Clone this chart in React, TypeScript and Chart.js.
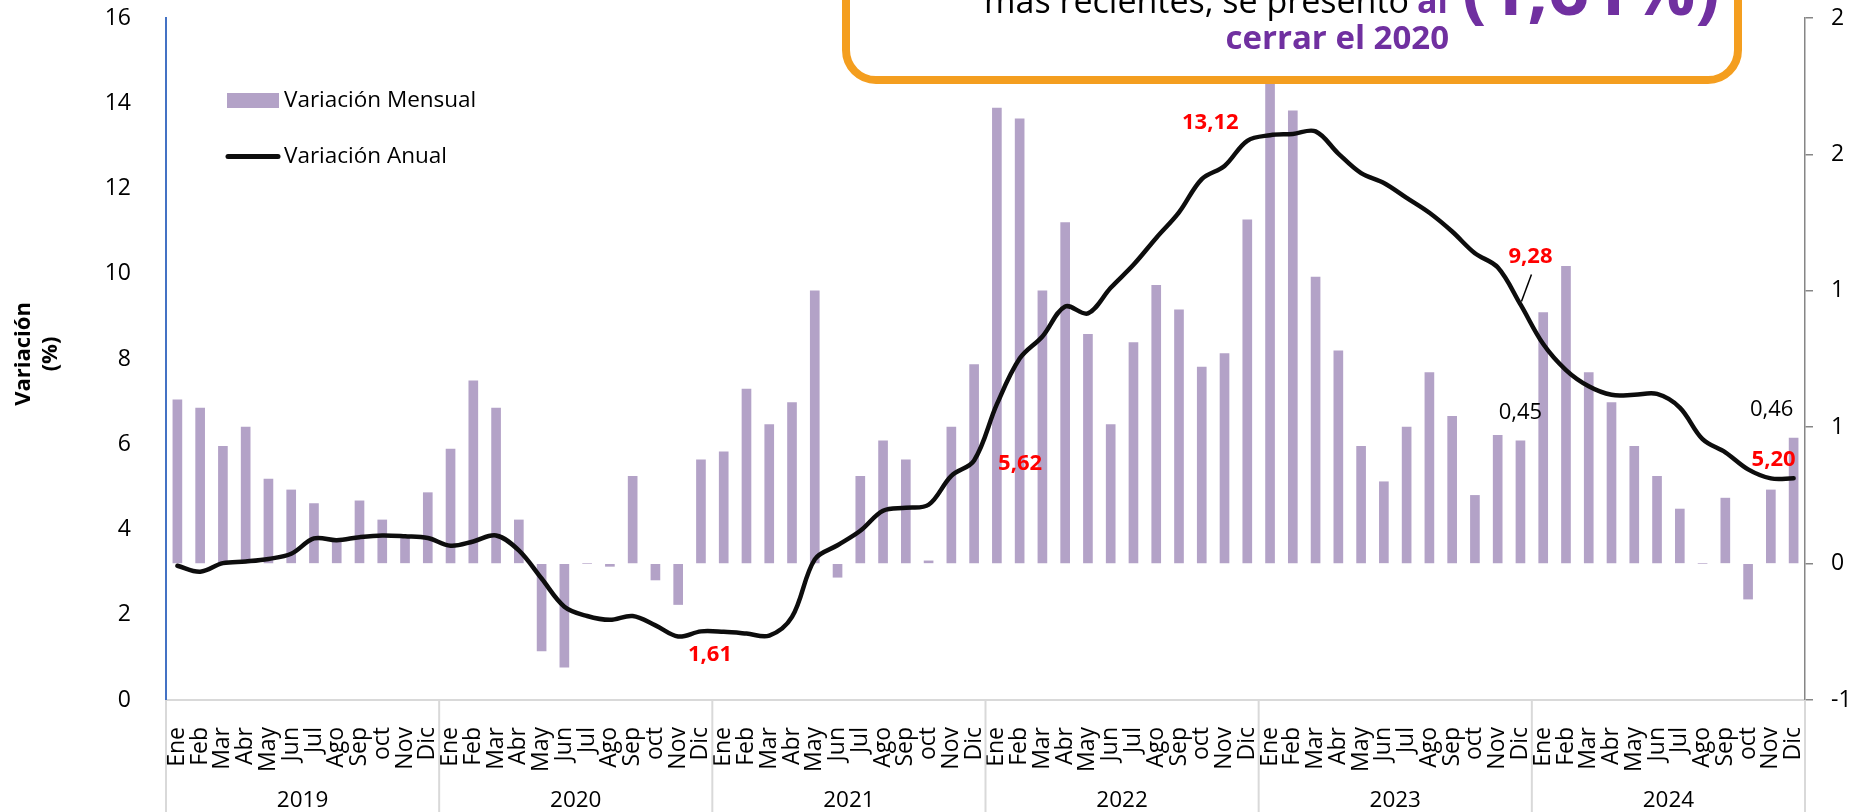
import React, { useEffect, useRef } from 'react';
import { Chart, registerables } from 'chart.js';

Chart.register(...registerables);

const FONT = "'Open Sans', 'Noto Sans', sans-serif";

const monthLabels = ['Ene', 'Feb', 'Mar', 'Abr', 'May', 'Jun', 'Jul', 'Ago', 'Sep', 'oct', 'Nov', 'Dic'];
const yearLabels = ['2019', '2020', '2021', '2022', '2023', '2024'];

// Variación mensual (%), eje derecho
const monthly2019 = [0.60, 0.57, 0.43, 0.50, 0.31, 0.27, 0.22, 0.09, 0.23, 0.16, 0.10, 0.26];
const monthly2020 = [0.42, 0.67, 0.57, 0.16, -0.32, -0.38, 0.00, -0.01, 0.32, -0.06, -0.15, 0.38];
const monthly2021 = [0.41, 0.64, 0.51, 0.59, 1.00, -0.05, 0.32, 0.45, 0.38, 0.01, 0.50, 0.73];
const monthly2022 = [1.67, 1.63, 1.00, 1.25, 0.84, 0.51, 0.81, 1.02, 0.93, 0.72, 0.77, 1.26];
const monthly2023 = [1.78, 1.66, 1.05, 0.78, 0.43, 0.30, 0.50, 0.70, 0.54, 0.25, 0.47, 0.45];
const monthly2024 = [0.92, 1.09, 0.70, 0.59, 0.43, 0.32, 0.20, 0.00, 0.24, -0.13, 0.27, 0.46];

// Variación anual (%), eje izquierdo
const annual2019 = [3.15, 3.01, 3.21, 3.25, 3.31, 3.43, 3.79, 3.75, 3.82, 3.86, 3.84, 3.80];
const annual2020 = [3.62, 3.72, 3.86, 3.51, 2.85, 2.19, 1.97, 1.88, 1.97, 1.75, 1.49, 1.61];
const annual2021 = [1.60, 1.56, 1.51, 1.95, 3.30, 3.63, 3.97, 4.44, 4.51, 4.58, 5.26, 5.62];
const annual2022 = [6.94, 8.01, 8.53, 9.23, 9.07, 9.67, 10.21, 10.84, 11.44, 12.22, 12.53, 13.12];
const annual2023 = [13.25, 13.28, 13.34, 12.82, 12.36, 12.13, 11.78, 11.43, 10.99, 10.48, 10.15, 9.28];
const annual2024 = [8.35, 7.74, 7.36, 7.16, 7.16, 7.18, 6.86, 6.12, 5.81, 5.41, 5.20, 5.20];

const monthlyVariation = [...monthly2019, ...monthly2020, ...monthly2021, ...monthly2022, ...monthly2023, ...monthly2024];
const annualVariation = [...annual2019, ...annual2020, ...annual2021, ...annual2022, ...annual2023, ...annual2024];
const categoryLabels = yearLabels.flatMap(() => monthLabels);

// Annotated points (indices of December of each year) with label offsets
const annualLabelIdx = [23, 35, 47, 59, 71];
const annualLabelOffsets = [[9, 23], [46, 3], [-37, -18], [10, -48], [-20, -19]];
const monthlyLabelIdx = [59, 71];
const monthlyLabelOffsets = [[0, -28], [-22, -28]];

const fmt = (v: number) => v.toFixed(2).replace('.', ',');

const overlayPlugin = {
  id: 'overlay',
  afterDraw(chart: any) {
    const ctx: CanvasRenderingContext2D = chart.ctx;
    const xs = chart.scales.x;
    const area = chart.chartArea;
    const H = chart.height;
    ctx.save();

    // multi-level category axis: year separators and labels
    const half = (xs.getPixelForValue(1) - xs.getPixelForValue(0)) / 2;
    ctx.strokeStyle = '#d9d9d9';
    ctx.lineWidth = 2;
    for (let k = 0; k <= yearLabels.length; k++) {
      const px = k < yearLabels.length ? xs.getPixelForValue(k * 12) - half : xs.getPixelForValue(k * 12 - 1) + half;
      ctx.beginPath();
      ctx.moveTo(px, area.bottom);
      ctx.lineTo(px, H);
      ctx.stroke();
    }
    ctx.fillStyle = '#000';
    ctx.font = `22.5px ${FONT}`;
    ctx.textAlign = 'center';
    ctx.textBaseline = 'middle';
    yearLabels.forEach((y, k) => {
      const cx = (xs.getPixelForValue(k * 12) + xs.getPixelForValue(k * 12 + 11)) / 2;
      ctx.fillText(y, cx, 801);
    });

    // y axis title
    ctx.save();
    ctx.translate(0, 354);
    ctx.rotate(-Math.PI / 2);
    ctx.font = `bold 22px ${FONT}`;
    ctx.textAlign = 'center';
    ctx.textBaseline = 'alphabetic';
    ctx.fillText('Variación', 0, 30);
    ctx.fillText('(%)', 0, 57);
    ctx.restore();

    // legend
    ctx.fillStyle = '#b3a2c7';
    ctx.fillRect(227, 93, 52, 15);
    ctx.strokeStyle = '#0d0d0d';
    ctx.lineWidth = 5;
    ctx.lineCap = 'round';
    ctx.beginPath();
    ctx.moveTo(228, 156.5);
    ctx.lineTo(278, 156.5);
    ctx.stroke();
    ctx.fillStyle = '#000';
    ctx.font = `22.5px ${FONT}`;
    ctx.textAlign = 'left';
    ctx.textBaseline = 'middle';
    ctx.fillText('Variación Mensual', 284, 101);
    ctx.fillText('Variación Anual', 284, 157);

    // data labels
    const lineMeta = chart.getDatasetMeta(1);
    const barMeta = chart.getDatasetMeta(0);
    ctx.textAlign = 'center';
    ctx.textBaseline = 'middle';
    ctx.font = `bold 22px ${FONT}`;
    ctx.fillStyle = '#ff0000';
    annualLabelIdx.forEach((i, n) => {
      const p = lineMeta.data[i];
      const [dx, dy] = annualLabelOffsets[n];
      ctx.fillText(fmt(annualVariation[i]), p.x + dx, p.y + dy);
    });
    // leader line for 9,28
    {
      const p = lineMeta.data[59];
      ctx.strokeStyle = '#000';
      ctx.lineWidth = 1.5;
      ctx.lineCap = 'butt';
      ctx.beginPath();
      ctx.moveTo(p.x + 11, p.y - 30);
      ctx.lineTo(p.x + 1, p.y - 3);
      ctx.stroke();
    }
    ctx.font = `22px ${FONT}`;
    ctx.fillStyle = '#000';
    monthlyLabelIdx.forEach((i, n) => {
      const b = barMeta.data[i];
      const [dx, dy] = monthlyLabelOffsets[n];
      ctx.fillText(fmt(monthlyVariation[i]), b.x + dx, b.y + dy);
    });

    // callout box
    const bx = 846, by = -70, bw = 1738 - 846, bh = 80 + 70, r = 30;
    ctx.beginPath();
    ctx.moveTo(bx + r, by);
    ctx.lineTo(bx + bw - r, by);
    ctx.arcTo(bx + bw, by, bx + bw, by + r, r);
    ctx.lineTo(bx + bw, by + bh - r);
    ctx.arcTo(bx + bw, by + bh, bx + bw - r, by + bh, r);
    ctx.lineTo(bx + r, by + bh);
    ctx.arcTo(bx, by + bh, bx, by + bh - r, r);
    ctx.lineTo(bx, by + r);
    ctx.arcTo(bx, by, bx + r, by, r);
    ctx.closePath();
    ctx.fillStyle = '#ffffff';
    ctx.fill();
    ctx.strokeStyle = '#F49E1F';
    ctx.lineWidth = 8;
    ctx.stroke();

    ctx.textBaseline = 'alphabetic';
    ctx.textAlign = 'right';
    ctx.fillStyle = '#000';
    ctx.font = `34px ${FONT}`;
    ctx.fillText('más recientes, se presentó', 1409, 13);
    ctx.fillStyle = '#7030A0';
    ctx.font = `bold 34px ${FONT}`;
    ctx.fillText('al', 1448, 13);
    ctx.font = `bold 33px ${FONT}`;
    ctx.fillText('cerrar el 2020', 1449, 49);
    ctx.textAlign = 'left';
    ctx.font = `bold 72px ${FONT}`;
    ctx.fillText('(1,61%)', 1462, 15);

    ctx.restore();
  },
};

export default function App() {
  const ref = useRef<HTMLCanvasElement>(null);
  useEffect(() => {
    const canvas = ref.current;
    if (!canvas) return;
    const chart = new Chart(canvas, {
      type: 'bar',
      data: {
        labels: categoryLabels,
        datasets: [
          {
            type: 'bar',
            label: 'Variación Mensual',
            data: monthlyVariation,
            yAxisID: 'y1',
            backgroundColor: '#b3a2c7',
            barThickness: 9,
            order: 2,
          } as any,
          {
            type: 'line',
            label: 'Variación Anual',
            data: annualVariation,
            yAxisID: 'y',
            borderColor: '#0d0d0d',
            borderWidth: 4.5,
            tension: 0.35,
            pointRadius: 0,
            borderCapStyle: 'round',
            borderJoinStyle: 'round',
            order: 1,
          } as any,
        ],
      },
      options: {
        responsive: false,
        animation: false,
        devicePixelRatio: 1,
        layout: { padding: { top: 18, left: 0, right: 0, bottom: 0 } },
        plugins: { legend: { display: false }, tooltip: { enabled: false }, title: { display: false } },
        scales: {
          x: {
            offset: true,
            grid: { display: false },
            border: { display: true, color: '#d9d9d9', width: 2 },
            ticks: {
              autoSkip: false,
              maxRotation: 90,
              minRotation: 90,
              padding: 19,
              color: '#000',
              font: { size: 23, family: FONT },
            },
            afterFit: (s: any) => { s.height = 112; s.paddingLeft = 0; s.paddingRight = 0; },
          },
          y: {
            position: 'left',
            min: 0,
            max: 16,
            ticks: { stepSize: 2, padding: 27, color: '#000', font: { size: 23, family: FONT } },
            grid: { display: false },
            border: { display: true, color: '#4472c4', width: 2 },
            afterFit: (s: any) => { s.width = 166; s.paddingTop = 0; s.paddingBottom = 0; },
          },
          y1: {
            position: 'right',
            min: -0.5,
            max: 2,
            ticks: {
              stepSize: 0.5,
              padding: 18,
              color: '#000',
              font: { size: 23, family: FONT },
              callback: (v: any) => {
                const n = Number(v);
                const r = Math.sign(n) * Math.round(Math.abs(n));
                return r === 0 ? '0' : String(r);
              },
            },
            grid: { drawOnChartArea: false, drawTicks: true, tickLength: 8, color: '#868686', lineWidth: 1.5 },
            border: { display: true, color: '#868686', width: 1.5 },
            afterFit: (s: any) => { s.width = 44; s.paddingTop = 0; s.paddingBottom = 0; },
          },
        },
      } as any,
      plugins: [overlayPlugin],
    });
    return () => chart.destroy();
  }, []);
  return (
    <div style={{ position: 'fixed', left: 0, top: 0, width: 1849, height: 812, background: '#fff' }}>
      <canvas ref={ref} width={1849} height={812} style={{ display: 'block', width: 1849, height: 812 }} />
    </div>
  );
}
